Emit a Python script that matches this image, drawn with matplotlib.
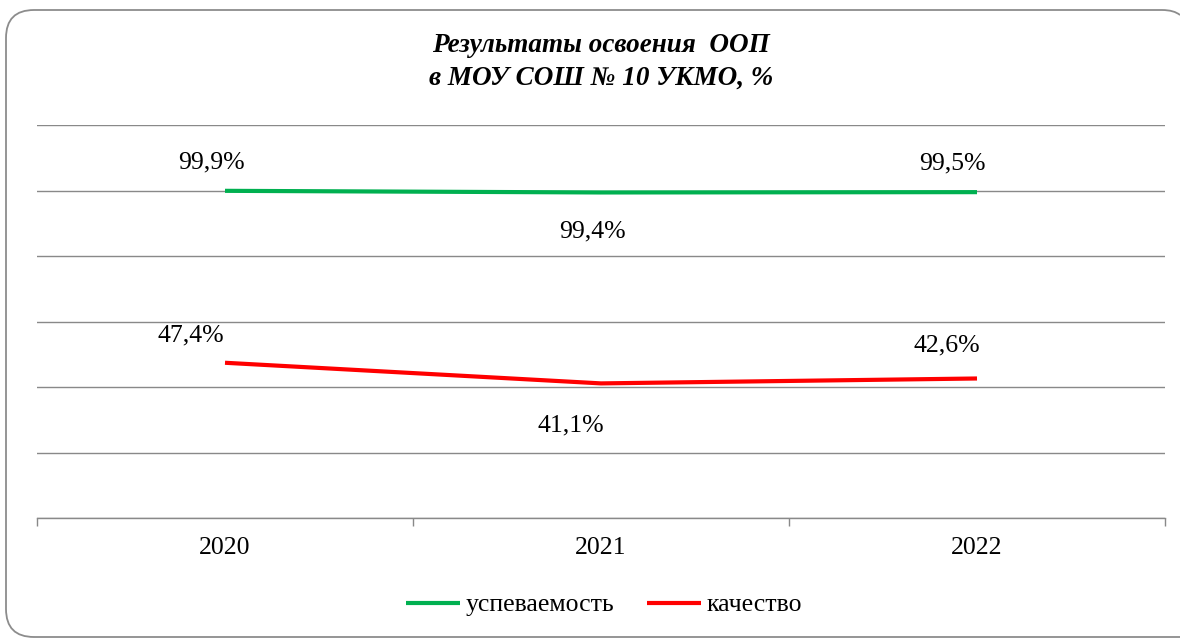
import matplotlib
matplotlib.use('Agg')
import matplotlib.pyplot as plt
import matplotlib.patches as patches
from matplotlib.path import Path

plt.rcParams['font.family'] = ['Liberation Serif', 'DejaVu Serif']

years = ['2020', '2021', '2022']
uspevaemost = [99.9, 99.4, 99.5]
kachestvo = [47.4, 41.1, 42.6]
usp_labels = ['99,9%', '99,4%', '99,5%']
kach_labels = ['47,4%', '41,1%', '42,6%']

# label offsets in pixels (dx, dy)
usp_off = [(-14, 28), (-9, -39), (-25, 29)]
kach_off = [(-34, 27), (-30, -42), (-30, 33)]

GREEN = '#00B050'
RED = '#FF0000'
GRID = '#898989'

fig = plt.figure(figsize=(11.8, 6.39), dpi=100)

# rounded frame, open on the right where it runs off the picture (inches)
L, B, T, r, W = 0.06, 0.02, 6.29, 0.28, 11.8
verts = [(W, T - 0.05), (W - 0.06, T), (W - 0.18, T),
         (L + r, T), (L, T), (L, T - r),
         (L, B + r), (L, B), (L + r, B),
         (W, B)]
codes = [Path.MOVETO, Path.CURVE3, Path.CURVE3,
         Path.LINETO, Path.CURVE3, Path.CURVE3,
         Path.LINETO, Path.CURVE3, Path.CURVE3,
         Path.LINETO]
frame = patches.PathPatch(Path(verts, codes), transform=fig.dpi_scale_trans, fill=False,
                          edgecolor='#8c8c8c', linewidth=1.3)
fig.patches.append(frame)

ax = fig.add_axes([37 / 1180, 1 - 518 / 639, 1128 / 1180, 393 / 639])
x = list(range(len(years)))

ax.plot(x, uspevaemost, color=GREEN, lw=3, solid_capstyle='butt', label='успеваемость', zorder=3)
ax.plot(x, kachestvo, color=RED, lw=3, solid_capstyle='butt', label='качество', zorder=3)

for xi, v, t, (dx, dy) in zip(x, uspevaemost, usp_labels, usp_off):
    ax.annotate(t, (xi, v), xytext=(dx, dy), textcoords='offset pixels',
                ha='center', va='center', fontsize=18.5)
for xi, v, t, (dx, dy) in zip(x, kachestvo, kach_labels, kach_off):
    ax.annotate(t, (xi, v), xytext=(dx, dy), textcoords='offset pixels',
                ha='center', va='center', fontsize=18.5)

ax.set_xlim(-0.5, len(years) - 0.5)
ax.set_ylim(0, 120)
ax.set_yticks(range(0, 121, 20))
ax.yaxis.grid(True, color=GRID, lw=1)
ax.set_axisbelow(True)
ax.tick_params(axis='y', length=0, labelleft=False)

ax.set_xticks(x)
ax.set_xticklabels(years, fontsize=18.5)
ax.tick_params(axis='x', which='major', length=0, pad=14)
ax.set_xticks([i - 0.5 for i in range(len(years) + 1)], minor=True)
ax.tick_params(axis='x', which='minor', length=6, color=GRID, width=1)

for s in ['top', 'left', 'right']:
    ax.spines[s].set_visible(False)
ax.spines['bottom'].set_color(GRID)
ax.spines['bottom'].set_linewidth(1)

fig.text(601 / 1180, 1 - 46 / 639, 'Результаты освоения  ООП', ha='center', va='center',
         fontsize=19.5, fontweight='bold', style='italic')
fig.text(601 / 1180, 1 - 78 / 639, 'в МОУ СОШ № 10 УКМО, %', ha='center', va='center',
         fontsize=19.5, fontweight='bold', style='italic')

fig.legend(loc='center', bbox_to_anchor=(604 / 1180, 1 - 605 / 639), ncol=2, frameon=False,
           fontsize=18.5, handlelength=2.1, handletextpad=0.2, columnspacing=1.3)

fig.savefig('out.png', dpi=100)
